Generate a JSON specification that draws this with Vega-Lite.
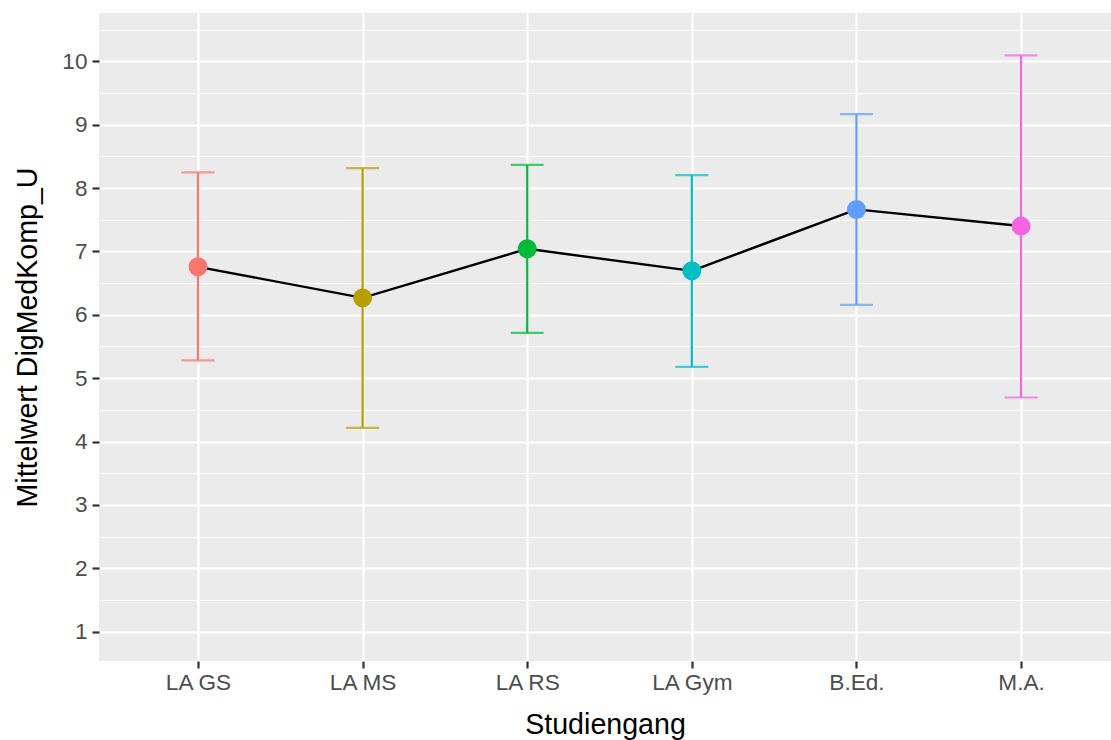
{
  "$schema": "https://vega.github.io/schema/vega-lite/v6.json",
  "width": 1012,
  "height": 648,
  "autosize": {"type": "none"},
  "padding": {"left": 99, "top": 13, "right": 0, "bottom": 79},
  "background": "#FFFFFF",
  "config": {
    "font": "Liberation Sans",
    "view": {"fill": "#EBEBEB", "stroke": null},
    "axis": {
      "domain": false,
      "grid": true,
      "gridColor": "#FFFFFF",
      "gridWidth": 2.2,
      "labelColor": "#4D4D4D",
      "labelFontSize": 22.6,
      "labelFont": "Liberation Sans",
      "tickColor": "#333333",
      "tickSize": 7,
      "tickWidth": 2.2,
      "titleColor": "#000000",
      "titleFontSize": 28.6,
      "titleFontWeight": "normal",
      "titleFont": "Liberation Sans"
    }
  },
  "data": {
    "values": [
      {"Studiengang": "LA GS", "mean": 6.757, "lower": 5.28, "upper": 8.247},
      {"Studiengang": "LA MS", "mean": 6.267, "lower": 4.215, "upper": 8.315},
      {"Studiengang": "LA RS", "mean": 7.041, "lower": 5.715, "upper": 8.367},
      {"Studiengang": "LA Gym", "mean": 6.694, "lower": 5.178, "upper": 8.205},
      {"Studiengang": "B.Ed.", "mean": 7.663, "lower": 6.157, "upper": 9.168},
      {"Studiengang": "M.A.", "mean": 7.4, "lower": 4.695, "upper": 10.095}
    ]
  },
  "encoding": {
    "x": {
      "field": "Studiengang",
      "type": "nominal",
      "sort": null,
      "scale": {"type": "point", "padding": 0.574, "align": 0.524},
      "axis": {"labelAngle": 0, "labelPadding": 3, "titlePadding": 17, "title": "Studiengang"}
    }
  },
  "layer": [
    {
      "mark": {"type": "rule", "strokeWidth": 2.2},
      "encoding": {
        "y": {
          "field": "lower",
          "type": "quantitative",
          "scale": {"domain": [0.536, 10.763], "nice": false, "zero": false},
          "axis": {
            "title": "Mittelwert DigMedKomp_U",
            "titlePadding": 19,
            "labelPadding": 5,
            "values": [1, 1.5, 2, 2.5, 3, 3.5, 4, 4.5, 5, 5.5, 6, 6.5, 7, 7.5, 8, 8.5, 9, 9.5, 10, 10.5],
            "labelExpr": "datum.value % 1 === 0 ? format(datum.value, 'd') : ''",
            "gridWidth": {"condition": {"test": "datum.value % 1 !== 0", "value": 1.1}, "value": 2.2},
            "tickOpacity": {"condition": {"test": "datum.value % 1 !== 0", "value": 0}, "value": 1}
          }
        },
        "y2": {"field": "upper"},
        "color": {
          "field": "Studiengang",
          "type": "nominal",
          "sort": null,
          "scale": {
            "domain": ["LA GS", "LA MS", "LA RS", "LA Gym", "B.Ed.", "M.A."],
            "range": ["#F8766D", "#B79F00", "#00BA38", "#00BFC4", "#619CFF", "#F564E3"]
          },
          "legend": null
        }
      }
    },
    {
      "mark": {"type": "tick", "orient": "horizontal", "size": 33, "thickness": 2.2},
      "encoding": {
        "y": {
          "field": "upper",
          "type": "quantitative",
          "axis": {
            "title": "Mittelwert DigMedKomp_U",
            "titlePadding": 19,
            "labelPadding": 5,
            "values": [1, 1.5, 2, 2.5, 3, 3.5, 4, 4.5, 5, 5.5, 6, 6.5, 7, 7.5, 8, 8.5, 9, 9.5, 10, 10.5],
            "labelExpr": "datum.value % 1 === 0 ? format(datum.value, 'd') : ''",
            "gridWidth": {"condition": {"test": "datum.value % 1 !== 0", "value": 1.1}, "value": 2.2},
            "tickOpacity": {"condition": {"test": "datum.value % 1 !== 0", "value": 0}, "value": 1}
          }
        },
        "color": {"field": "Studiengang", "type": "nominal", "sort": null, "legend": null}
      }
    },
    {
      "mark": {"type": "tick", "orient": "horizontal", "size": 33, "thickness": 2.2},
      "encoding": {
        "y": {
          "field": "lower",
          "type": "quantitative",
          "axis": {
            "title": "Mittelwert DigMedKomp_U",
            "titlePadding": 19,
            "labelPadding": 5,
            "values": [1, 1.5, 2, 2.5, 3, 3.5, 4, 4.5, 5, 5.5, 6, 6.5, 7, 7.5, 8, 8.5, 9, 9.5, 10, 10.5],
            "labelExpr": "datum.value % 1 === 0 ? format(datum.value, 'd') : ''",
            "gridWidth": {"condition": {"test": "datum.value % 1 !== 0", "value": 1.1}, "value": 2.2},
            "tickOpacity": {"condition": {"test": "datum.value % 1 !== 0", "value": 0}, "value": 1}
          }
        },
        "color": {"field": "Studiengang", "type": "nominal", "sort": null, "legend": null}
      }
    },
    {
      "mark": {"type": "line", "color": "#000000", "strokeWidth": 2.4},
      "encoding": {
        "y": {
          "field": "mean",
          "type": "quantitative",
          "axis": {
            "title": "Mittelwert DigMedKomp_U",
            "titlePadding": 19,
            "labelPadding": 5,
            "values": [1, 1.5, 2, 2.5, 3, 3.5, 4, 4.5, 5, 5.5, 6, 6.5, 7, 7.5, 8, 8.5, 9, 9.5, 10, 10.5],
            "labelExpr": "datum.value % 1 === 0 ? format(datum.value, 'd') : ''",
            "gridWidth": {"condition": {"test": "datum.value % 1 !== 0", "value": 1.1}, "value": 2.2},
            "tickOpacity": {"condition": {"test": "datum.value % 1 !== 0", "value": 0}, "value": 1}
          }
        }
      }
    },
    {
      "mark": {"type": "point", "filled": true, "opacity": 1, "size": 360},
      "encoding": {
        "y": {
          "field": "mean",
          "type": "quantitative",
          "axis": {
            "title": "Mittelwert DigMedKomp_U",
            "titlePadding": 19,
            "labelPadding": 5,
            "values": [1, 1.5, 2, 2.5, 3, 3.5, 4, 4.5, 5, 5.5, 6, 6.5, 7, 7.5, 8, 8.5, 9, 9.5, 10, 10.5],
            "labelExpr": "datum.value % 1 === 0 ? format(datum.value, 'd') : ''",
            "gridWidth": {"condition": {"test": "datum.value % 1 !== 0", "value": 1.1}, "value": 2.2},
            "tickOpacity": {"condition": {"test": "datum.value % 1 !== 0", "value": 0}, "value": 1}
          }
        },
        "color": {"field": "Studiengang", "type": "nominal", "sort": null, "legend": null}
      }
    }
  ]
}
